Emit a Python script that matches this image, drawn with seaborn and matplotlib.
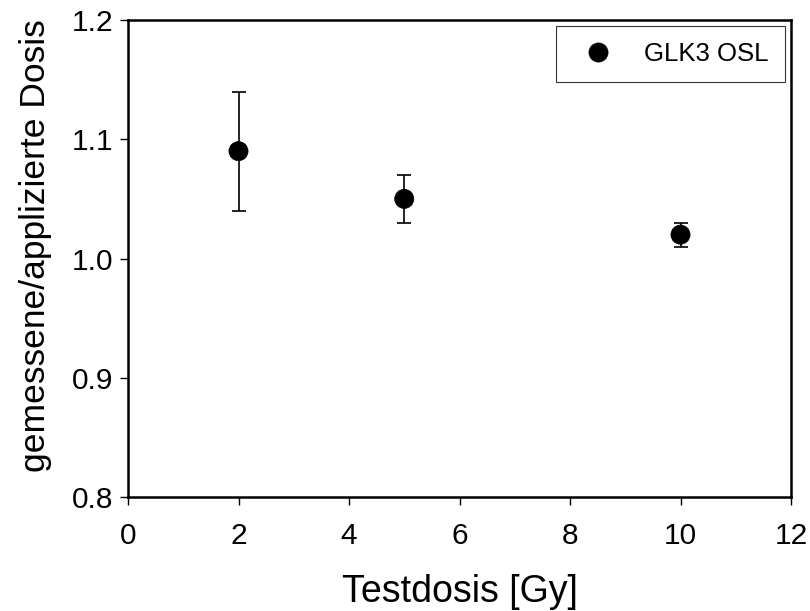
import matplotlib
matplotlib.use("Agg")
import matplotlib.pyplot as plt
import seaborn as sns
import pandas as pd

dose = [2, 5, 10]
ratio = [1.09, 1.05, 1.02]
err = [0.05, 0.02, 0.01]
series = "GLK3 OSL"

sns.set_style("ticks")
plt.rcParams['font.family'] = ['Liberation Sans', 'DejaVu Sans']
plt.rcParams['text.color'] = 'black'
plt.rcParams['axes.labelcolor'] = 'black'

df = pd.DataFrame({"dose": dose, "ratio": ratio, "err": err, "series": series})

fig = plt.figure(figsize=(8.10, 6.11), dpi=100)
ax = fig.add_axes([128 / 810, 1 - 497 / 611, 663 / 810, 477 / 611])

ax.errorbar(df["dose"], df["ratio"], yerr=df["err"], fmt="none", ecolor="black",
            elinewidth=1.2, capsize=5, capthick=1.2, zorder=2)
sns.scatterplot(data=df, x="dose", y="ratio", hue="series", palette=["black"],
                s=190, edgecolor="black", linewidth=0.5, ax=ax, zorder=3)

ax.set_xlim(0, 12)
ax.set_ylim(0.8, 1.2)
ax.set_xticks([0, 2, 4, 6, 8, 10, 12])
ax.set_yticks([0.8, 0.9, 1.0, 1.1, 1.2])
ax.set_yticklabels(["0.8", "0.9", "1.0", "1.1", "1.2"])
ax.tick_params(direction="out", length=6, width=1, labelsize=21.5, colors="black")
ax.tick_params(axis="x", pad=12)
ax.tick_params(axis="y", pad=4.5)
for s in ax.spines.values():
    s.set_linewidth(1.8)
    s.set_color("black")
ax.set_xlabel("Testdosis [Gy]", fontsize=27, labelpad=17.5)
ax.set_ylabel("gemessene/applizierte Dosis", fontsize=25.5)
ax.yaxis.set_label_coords(-0.115, 0.528)

leg = ax.legend(loc="upper right", fontsize=18.5, frameon=True, fancybox=False,
                edgecolor="black", borderpad=0.62, handletextpad=0.82, handlelength=2.0,
                markerscale=1.0, borderaxespad=0.24)
leg.get_frame().set_linewidth(0.8)

fig.savefig("out.png", dpi=100)
